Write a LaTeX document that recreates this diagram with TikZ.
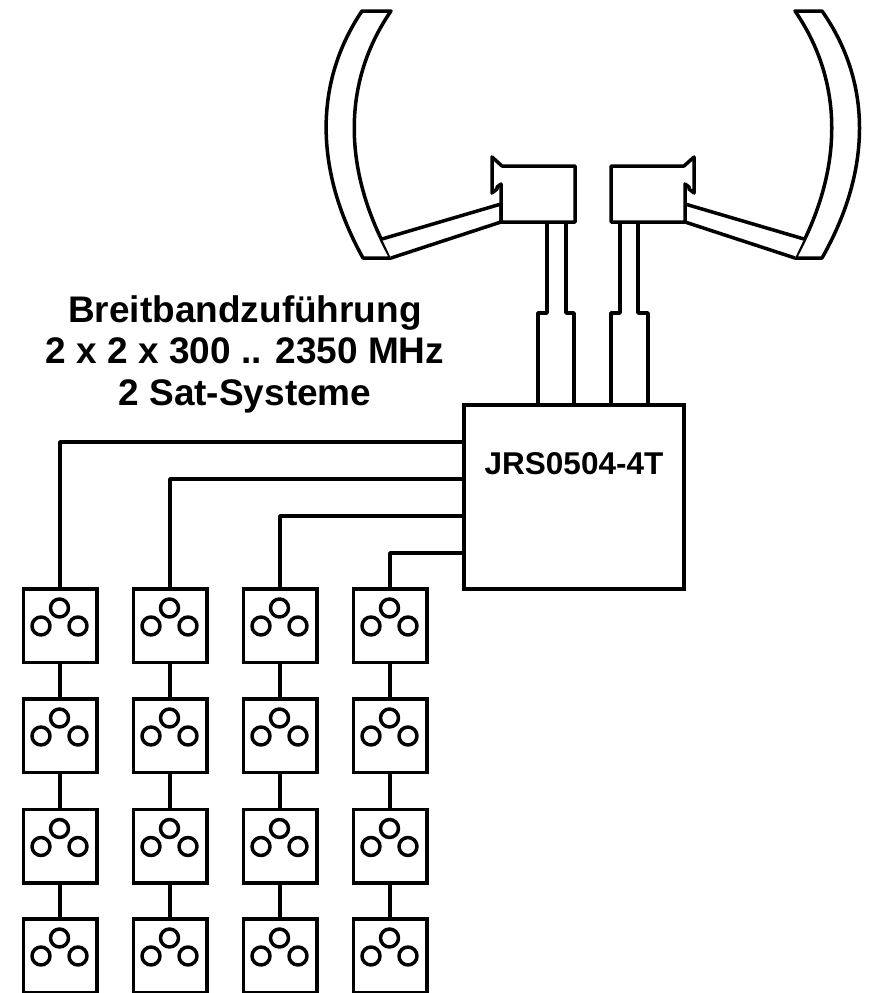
\documentclass[tikz,border=0pt]{standalone}
\usepackage{fontspec}
\usepackage{xcolor}
\usepackage{tikz}
\setmainfont{Liberation Sans}
\definecolor{ink}{RGB}{0,0,0}

\begin{document}
\begin{tikzpicture}[
  x=1pt, y=-1pt,
  wire/.style={draw=ink, line width=3.5pt, line join=round},
  part/.style={draw=ink, line width=3.5pt, line join=round, fill=white},
  dose/.style={rectangle, draw=ink, line width=3.5pt, minimum size=73.5pt,
               inner sep=0pt, outer sep=0pt, path picture={
                 \draw[wire] ([xshift=-0.5pt,yshift=17.5pt]path picture bounding box.center) circle[radius=9pt];
                 \draw[wire] ([xshift=-19pt,yshift=-0.5pt]path picture bounding box.center) circle[radius=9pt];
                 \draw[wire] ([xshift=18pt,yshift=-0.5pt]path picture bounding box.center) circle[radius=9pt];}},
  switchbox/.style={rectangle, draw=ink, line width=3.5pt, minimum width=220pt,
               minimum height=184pt, inner sep=0pt, outer sep=0pt},
  caption/.style={font=\fontsize{31.5}{41.5}\selectfont\bfseries, text=ink, inner sep=0pt, align=center},
  bigcaption/.style={font=\fontsize{37}{41.5}\selectfont\bfseries, text=ink, inner sep=0pt, align=center}]
  \useasboundingbox (0,0) rectangle (868,993);
  % left dish
  \draw[part] (362,11) -- (391,11) .. controls (342,82) and (342,170) .. (391,258)
    -- (363,258) .. controls (314,170) and (314,82) .. (362,11) -- cycle;
  \draw[part] (382,239) -- (501,204) -- (501,222) -- (391,258);
  \draw[part] (575,166) -- (502,166) -- (492,157) -- (492,193) -- (497,189) -- (497,187)
    -- (501,184) -- (501,222) -- (575,222) -- cycle;
  % right dish
  \draw[part] (822,11) -- (795,11) .. controls (844,82) and (844,170) .. (795,258)
    -- (822,258) .. controls (872,170) and (872,82) .. (822,11) -- cycle;
  \draw[part] (804,239) -- (685,204) -- (685,222) -- (795,258);
  \draw[part] (611,166) -- (684,166) -- (694,157) -- (694,193) -- (689,189) -- (689,187)
    -- (685,184) -- (685,222) -- (611,222) -- cycle;
  % switch
  \node[switchbox] (switch) at (574,497) {};
  \node[caption] (switchlabel) at (574,464) {JRS0504-4T};
  \node[bigcaption] (feedlabel) at (245,354) {Breitbandzuführung\\2 x 2 x 300 .. 2350 MHz\\2 Sat-Systeme};
  % feed lines
  \coordinate (jog) at (0,313);
  \coordinate (la) at (547,222);
  \coordinate (lb) at (566,222);
  \coordinate (ra) at (620,222);
  \coordinate (rb) at (638,222);
  \coordinate (ina) at (538,405);
  \coordinate (inb) at (574,405);
  \coordinate (inc) at (611,405);
  \coordinate (ind) at (648,405);
  \draw[wire] (la) -- (la |- jog) -| (ina);
  \draw[wire] (lb) -- (lb |- jog) -| (inb);
  \draw[wire] (ra) -- (ra |- jog) -| (inc);
  \draw[wire] (rb) -- (rb |- jog) -| (ind);
  % outlets
  \node[dose] (d11) at (60,625.5) {};
  \node[dose] (d12) at (60,735.5) {};
  \node[dose] (d13) at (60,846) {};
  \node[dose] (d14) at (60,955.5) {};
  \node[dose] (d21) at (170,625.5) {};
  \node[dose] (d22) at (170,735.5) {};
  \node[dose] (d23) at (170,846) {};
  \node[dose] (d24) at (170,955.5) {};
  \node[dose] (d31) at (280,625.5) {};
  \node[dose] (d32) at (280,735.5) {};
  \node[dose] (d33) at (280,846) {};
  \node[dose] (d34) at (280,955.5) {};
  \node[dose] (d41) at (390,625.5) {};
  \node[dose] (d42) at (390,735.5) {};
  \node[dose] (d43) at (390,846) {};
  \node[dose] (d44) at (390,955.5) {};
  % trunk lines
  \coordinate (out1) at (464,442);
  \coordinate (out2) at (464,479);
  \coordinate (out3) at (464,516);
  \coordinate (out4) at (464,553);
  \draw[wire] (out1) -| (d11);
  \draw[wire] (out2) -| (d21);
  \draw[wire] (out3) -| (d31);
  \draw[wire] (out4) -| (d41);
  \draw[wire] (d11) -- (d12);
  \draw[wire] (d12) -- (d13);
  \draw[wire] (d13) -- (d14);
  \draw[wire] (d21) -- (d22);
  \draw[wire] (d22) -- (d23);
  \draw[wire] (d23) -- (d24);
  \draw[wire] (d31) -- (d32);
  \draw[wire] (d32) -- (d33);
  \draw[wire] (d33) -- (d34);
  \draw[wire] (d41) -- (d42);
  \draw[wire] (d42) -- (d43);
  \draw[wire] (d43) -- (d44);
\end{tikzpicture}
\end{document}
